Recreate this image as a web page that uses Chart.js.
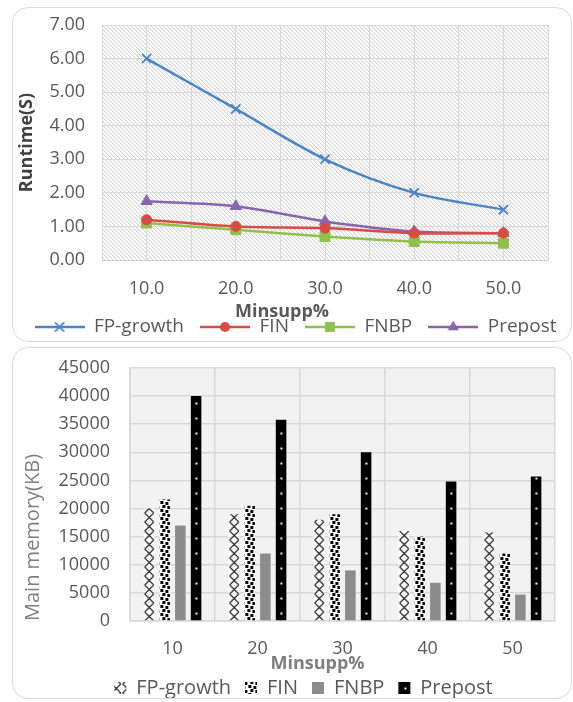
<!DOCTYPE html>
<html>
<head>
<meta charset="utf-8">
<title>Runtime / Main memory</title>
<script src="https://cdn.jsdelivr.net/npm/chart.js"></script>
<style>
    body { margin: 0; background: #fff; font-family: 'Open Sans', sans-serif; }
    .card { position: absolute; left: 12px; width: 560px; background: #fff; }
    .card::after { content: ''; position: absolute; left: 0; top: 0; right: 0; bottom: 0;
        border: 1.5px solid #d9d9d9; border-radius: 16px; pointer-events: none; }
    #card-runtime { top: 7px; height: 335px; }
    #card-memory { top: 347px; height: 352px; }
    .card .box { position: absolute; left: 0; top: 0; width: 100%; height: 100%; }
</style>
</head>
<body>
<div class="card" id="card-runtime"><div class="box"><canvas id="runtime"></canvas></div></div>
<div class="card" id="card-memory"><div class="box"><canvas id="memory"></canvas></div></div>

<script>
// runtime (seconds) per minimum support
var minsupp = [10, 20, 30, 40, 50];
var fpGrowthTime = [6.0, 4.5, 3.0, 2.0, 1.5];
var finTime = [1.2, 1.0, 0.95, 0.8, 0.8];
var fnbpTime = [1.1, 0.9, 0.7, 0.55, 0.5];
var prepostTime = [1.75, 1.6, 1.15, 0.85, 0.8];

// main memory (KB) per minimum support
var memLabels = ['10', '20', '30', '40', '50'];
var fpGrowthMem = [20000, 19000, 18000, 16000, 15800];
var finMem = [21600, 20500, 19000, 15000, 12000];
var fnbpMem = [17000, 12000, 9000, 6800, 4700];
var prepostMem = [40000, 35800, 30000, 24800, 25700];

var names = ['FP-growth', 'FIN', 'FNBP', 'Prepost'];
var lineColors = ['#4a84c9', '#d94c45', '#8fc04a', '#8766b0'];
var pointStyles = ['crossRot', 'circle', 'rect', 'triangle'];
var pointSizes = [6.5, 5, 7, 6.5];

var FONT = "'Open Sans', sans-serif";
var TICK = '#595959';

// ---------- helpers ----------
var scratch = document.createElement('canvas').getContext('2d');

function tile(w, h, draw) {
    var c = document.createElement('canvas');
    c.width = w; c.height = h;
    draw(c.getContext('2d'), w, h);
    return c;
}

// light diagonal hatch for the runtime plot area
var hatchTile = tile(4, 4, function (g) {
    g.fillStyle = '#fff'; g.fillRect(0, 0, 4, 4);
    for (var i = 0; i < 4; i++) {
        g.fillStyle = '#d4d4d4'; g.fillRect(i, i, 1, 1);
        g.fillStyle = '#eeeeee'; g.fillRect((i + 1) % 4, i, 1, 1);
    }
});

// bar fills
var BAR_W = 11;
var crossTile = tile(BAR_W, 9, function (g, w, h) {
    g.fillStyle = '#fff'; g.fillRect(0, 0, w, h);
    g.strokeStyle = '#111'; g.lineWidth = 1.1;
    g.beginPath();
    g.moveTo(1, 0); g.lineTo(w - 1, h);
    g.moveTo(w - 1, 0); g.lineTo(1, h);
    g.stroke();
});
var dotsTile = tile(BAR_W, 8, function (g, w, h) {
    g.fillStyle = '#fff'; g.fillRect(0, 0, w, h);
    g.fillStyle = '#000';
    g.fillRect(1, 0, 3, 3); g.fillRect(6, 1, 3, 3);
    g.fillRect(3, 4, 3, 3); g.fillRect(8, 5, 3, 3);
});
var solidDotTile = tile(BAR_W, 15, function (g, w, h) {
    g.fillStyle = '#000'; g.fillRect(0, 0, w, h);
    g.fillStyle = '#fff'; g.fillRect(4.5, 6.5, 2, 2);
});

var CAT_PCT = 0.74, BAR_PCT = 0.67;

// pattern anchored on the bar's own left edge and baseline
function barFill(t, k) {
    return function (c) {
        var pat = scratch.createPattern(t, 'repeat');
        if (c.type === 'data' && c.chart.scales.x && c.chart.scales.y) {
            var xs = c.chart.scales.x;
            var group = xs.width / memLabels.length * CAT_PCT;
            var slot = group / 4;
            var w = slot * BAR_PCT;
            var left = xs.getPixelForValue(c.dataIndex) - group / 2 + slot * k + (slot - w) / 2;
            var base = c.chart.scales.y.getPixelForValue(0);
            pat.setTransform(new DOMMatrix().translate(left, base));
        }
        return pat;
    };
}

// line + marker sample for the runtime legend
function legendIcon(color, style, r) {
    var w = 50, h = 18, cx = 25, cy = 9;
    return tile(w, h, function (g) {
        g.strokeStyle = color; g.fillStyle = color; g.lineWidth = 2.5;
        g.beginPath(); g.moveTo(0, cy); g.lineTo(w, cy); g.stroke();
        g.lineWidth = 1.8;
        g.beginPath();
        if (style === 'circle') {
            g.arc(cx, cy, r, 0, Math.PI * 2); g.fill();
        } else if (style === 'rect') {
            var s = r * Math.SQRT1_2;
            g.fillRect(cx - s, cy - s, 2 * s, 2 * s);
        } else if (style === 'triangle') {
            g.moveTo(cx, cy - r); g.lineTo(cx + r * 0.87, cy + r * 0.5); g.lineTo(cx - r * 0.87, cy + r * 0.5);
            g.closePath(); g.fill();
        } else {
            var d = r * Math.SQRT1_2;
            g.moveTo(cx - d, cy - d); g.lineTo(cx + d, cy + d);
            g.moveTo(cx + d, cy - d); g.lineTo(cx - d, cy + d);
            g.stroke();
        }
    });
}

var plotBackground = {
    id: 'plotBackground',
    beforeDraw: function (chart, args, opts) {
        var a = chart.chartArea, g = chart.ctx;
        g.save();
        g.fillStyle = opts.hatch ? scratch.createPattern(hatchTile, 'repeat') : opts.color;
        g.fillRect(a.left, a.top, a.right - a.left, a.bottom - a.top);
        g.restore();
    }
};

// x axis caption, placed relative to the plot centre
var xCaption = {
    id: 'xCaption',
    afterDraw: function (chart, args, opts) {
        var a = chart.chartArea, g = chart.ctx;
        g.save();
        g.font = opts.font;
        g.fillStyle = opts.color;
        g.textAlign = 'center';
        g.textBaseline = 'middle';
        g.fillText(opts.text, (a.left + a.right) / 2 + opts.dx, a.bottom + opts.dy);
        g.restore();
    }
};

// fixed axis boxes so the plot area sits where it should
function fixX(h, right) {
    return function (s) { s.height = h; s.paddingLeft = 0; s.paddingRight = right; };
}
function fixY(w) {
    return function (s) { s.width = w; s.paddingTop = 0; s.paddingBottom = 0; };
}

// ---------- runtime line chart ----------
var runtimeSeries = [fpGrowthTime, finTime, fnbpTime, prepostTime];
var icons = names.map(function (n, i) { return legendIcon(lineColors[i], pointStyles[i], pointSizes[i]); });

new Chart(document.getElementById('runtime'), {
    type: 'line',
    data: {
        datasets: runtimeSeries.map(function (vals, i) {
            return {
                label: names[i],
                data: minsupp.map(function (x, j) { return { x: x, y: vals[j] }; }),
                borderColor: lineColors[i],
                backgroundColor: lineColors[i],
                borderWidth: 2.5,
                tension: 0.3,
                pointStyle: pointStyles[i],
                pointRadius: pointSizes[i],
                pointBorderWidth: i === 0 ? 1.8 : 1,
                pointBackgroundColor: lineColors[i],
                pointBorderColor: lineColors[i]
            };
        })
    },
    options: {
        responsive: true,
        maintainAspectRatio: false,
        animation: false,
        layout: { padding: { left: 0, top: 18, right: -7, bottom: -4.5 } },
        scales: {
            x: {
                type: 'linear',
                min: 5, max: 55,
                afterFit: fixX(41.5, 24),
                grid: { color: '#d9d9d9', lineWidth: 1, drawTicks: false },
                border: { color: '#d0d0d0' },
                ticks: {
                    stepSize: 5, autoSkip: false, padding: 18,
                    color: TICK, font: { family: FONT, size: 18 },
                    callback: function (v) { return minsupp.indexOf(v) >= 0 ? v.toFixed(1) : ''; }
                }
            },
            y: {
                min: 0, max: 7,
                afterFit: fixY(90),
                grid: { color: '#d9d9d9', lineWidth: 1, drawTicks: false },
                border: { display: false },
                ticks: {
                    stepSize: 1, padding: 17,
                    color: TICK, font: { family: FONT, size: 18 },
                    callback: function (v) { return v.toFixed(2); }
                },
                title: {
                    display: true, text: 'Runtime(S)', color: '#404040',
                    font: { family: FONT, size: 18, weight: 'bold' },
                    padding: { top: 4, bottom: 0 }
                }
            }
        },
        plugins: {
            plotBackground: { hatch: true },
            xCaption: { text: 'Minsupp%', dx: -43, dy: 52, color: TICK, font: 'bold 18px ' + FONT },
            tooltip: { enabled: false },
            legend: {
                position: 'bottom',
                labels: {
                    usePointStyle: true,
                    pointStyleWidth: 50,
                    padding: 16,
                    color: TICK,
                    font: { family: FONT, size: 19 },
                    generateLabels: function (chart) {
                        var items = Chart.defaults.plugins.legend.labels.generateLabels(chart);
                        items.forEach(function (it, i) { it.pointStyle = icons[i]; });
                        return items;
                    }
                }
            }
        }
    },
    plugins: [plotBackground, xCaption]
});

// ---------- memory bar chart ----------
var memSeries = [fpGrowthMem, finMem, fnbpMem, prepostMem];
var memFills = [barFill(crossTile, 0), barFill(dotsTile, 1), '#8c8c8c', barFill(solidDotTile, 3)];

new Chart(document.getElementById('memory'), {
    type: 'bar',
    data: {
        labels: memLabels,
        datasets: memSeries.map(function (vals, i) {
            return {
                label: names[i],
                data: vals,
                backgroundColor: memFills[i],
                borderWidth: 0,
                categoryPercentage: CAT_PCT,
                barPercentage: BAR_PCT
            };
        })
    },
    options: {
        responsive: true,
        maintainAspectRatio: false,
        animation: false,
        layout: { padding: { left: 0, top: 21, right: -23, bottom: -9 } },
        scales: {
            x: {
                afterFit: fixX(43, 17),
                grid: { color: '#d9d9d9', lineWidth: 1.5, drawTicks: false, offset: true },
                border: { color: '#d9d9d9', width: 1.5 },
                ticks: { padding: 17, color: TICK, font: { family: FONT, size: 18 } }
            },
            y: {
                min: 0, max: 45000,
                afterFit: fixY(118),
                grid: { color: '#d9d9d9', lineWidth: 1.5, drawTicks: false },
                border: { color: '#d9d9d9', width: 1.5 },
                ticks: {
                    stepSize: 5000, padding: 20, color: TICK, font: { family: FONT, size: 18 },
                    callback: function (v) { return String(v); }
                },
                title: {
                    display: true, text: 'Main memory(KB)', align: 'start', color: '#7f7f7f',
                    font: { family: FONT, size: 20 },
                    padding: { top: 9, bottom: 0 }
                }
            }
        },
        plugins: {
            plotBackground: { color: '#f2f2f2' },
            xCaption: { text: 'Minsupp%', dx: -25, dy: 43, color: '#7f7f7f', font: 'bold 18px ' + FONT },
            tooltip: { enabled: false },
            legend: {
                position: 'bottom',
                labels: {
                    boxWidth: 12, boxHeight: 12,
                    padding: 14,
                    color: TICK,
                    font: { family: FONT, size: 20 }
                }
            }
        }
    },
    plugins: [plotBackground, xCaption]
});
</script>
</body>
</html>
